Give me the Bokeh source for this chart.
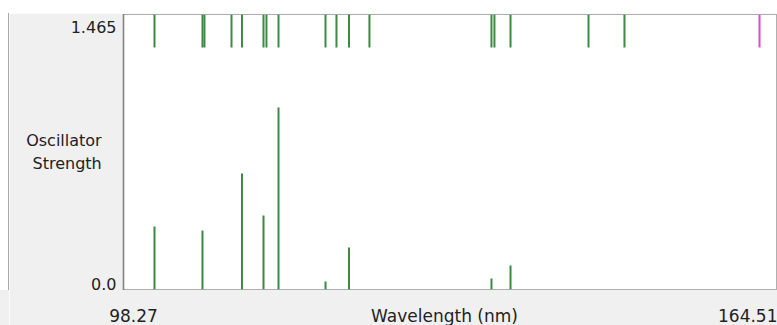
from bokeh.plotting import figure
from bokeh.models import FixedTicker, Range1d, Spacer
from bokeh.layouts import column, row
from bokeh.embed import file_html
from bokeh.resources import INLINE

# ---- data ----
wavelengths = [101.41, 106.27, 106.47, 109.21, 110.27, 112.45, 112.75, 113.97,
               118.73, 119.84, 121.11, 123.18, 135.54, 135.84, 137.47, 145.37, 149.01]
strengths = [0.336, 0.314, 0.0, 0.0, 0.618, 0.394, 0.0, 0.970,
             0.043, 0.0, 0.224, 0.0, 0.059, 0.0, 0.128, 0.0, 0.0]
selected_wavelength = [162.69]
x_min, x_max = 98.27, 164.51
y_max = 1.465
x_tick_labels = ["98.27", "Wavelength (nm)", "164.51"]
y_tick_labels = ["1.465", "0.0"]
y_title = "Oscillator\nStrength"

# ---- layout (pixels) ----
left_pad, top_pad = 9, 13
border_left, border_top, border_bottom = 114, 1, 36
frame_w, frame_h = 654, 275
band_px = 33

def px_to_x(px):
    return round(x_min + px * (x_max - x_min) / frame_w, 5)

def px_to_y(px_from_bottom):
    return round(y_max * px_from_bottom / frame_h, 5)

FONT = "DejaVu Sans"
TXT = "#222222"
GREEN = "#3a8a44"
PINK = "#d64ad6"
PANEL = "#f0f0f0"

p = figure(frame_width=frame_w, frame_height=frame_h,
           x_range=Range1d(x_min, x_max), y_range=Range1d(0, y_max),
           output_backend="svg", toolbar_location=None,
           min_border_left=border_left, min_border_right=0,
           min_border_top=border_top, min_border_bottom=border_bottom,
           background_fill_color="white", border_fill_color=PANEL)
p.grid.visible = False
p.outline_line_color = "#606060"
p.outline_line_dash = "1 1"

# tick band at the top: every transition
band_bottom = y_max - px_to_y(band_px)
p.segment(x0=wavelengths, y0=[y_max] * len(wavelengths), x1=wavelengths,
          y1=[band_bottom] * len(wavelengths), line_color=GREEN, line_width=2)
p.segment(x0=selected_wavelength, y0=[y_max] * len(selected_wavelength), x1=selected_wavelength,
          y1=[band_bottom] * len(selected_wavelength), line_color=PINK, line_width=2)

# stick spectrum
bx = [w for w, s in zip(wavelengths, strengths) if s > 0]
bs = [s for s in strengths if s > 0]
p.segment(x0=bx, y0=[0] * len(bx), x1=bx, y1=bs, line_color=GREEN, line_width=2)

# x axis: labels on one row
xt = [px_to_x(10), px_to_x(321), px_to_x(631)]
p.xaxis.ticker = FixedTicker(ticks=xt)
p.xaxis.major_label_overrides = {t: l for t, l in zip(xt, x_tick_labels)}
p.xaxis.axis_line_color = None
p.xaxis.major_tick_line_color = None
p.xaxis.minor_tick_line_color = None
p.xaxis.major_label_standoff = 10
p.xaxis.major_label_text_font = FONT
p.xaxis.major_label_text_font_size = "17px"
p.xaxis.major_label_text_color = TXT

# y axis
yt = [px_to_y(frame_h - 12), px_to_y(6)]
p.yaxis.ticker = FixedTicker(ticks=yt)
p.yaxis.major_label_overrides = {t: l for t, l in zip(yt, y_tick_labels)}
p.yaxis.axis_line_color = "#606060"
p.yaxis.axis_line_dash = "1 1"
p.yaxis.axis_line_width = 2
p.yaxis.major_tick_line_color = None
p.yaxis.minor_tick_line_color = None
p.yaxis.major_label_standoff = 1
p.yaxis.major_label_text_font = FONT
p.yaxis.major_label_text_font_size = "16px"
p.yaxis.major_label_text_color = TXT
p.yaxis.axis_label = y_title
p.yaxis.axis_label_orientation = "horizontal"
p.yaxis.axis_label_standoff = -34
p.yaxis.axis_label_text_font = FONT
p.yaxis.axis_label_text_font_size = "16px"
p.yaxis.axis_label_text_font_style = "normal"
p.yaxis.axis_label_text_color = TXT

panel_h = border_top + frame_h + 1
strip_h = border_bottom - 1
edge = Spacer(width=1, height=panel_h, styles={"background": "#a8a8a8"})
left_col = column(Spacer(width=left_pad - 1, height=top_pad + panel_h),
                  Spacer(width=left_pad - 1, height=strip_h, styles={"background": PANEL}))
edge_col = column(Spacer(width=1, height=top_pad), edge,
                  Spacer(width=1, height=strip_h, styles={"background": PANEL}))
layout = row(left_col, edge_col, column(Spacer(width=10, height=top_pad), p))
open("out.html", "w").write(file_html(layout, INLINE))
